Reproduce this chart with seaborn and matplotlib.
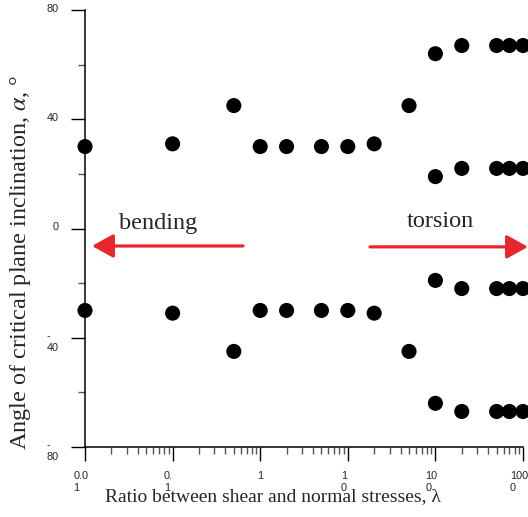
import numpy as np
import pandas as pd
import matplotlib
matplotlib.use("Agg")
import matplotlib.pyplot as plt
import matplotlib.transforms as mtransforms
from matplotlib.ticker import FixedLocator, LogLocator, NullFormatter
import seaborn as sns

# ---- data ----
lam = [0.01, 0.1, 0.5, 1, 2, 5, 10, 20, 50, 100, 200, 500, 700, 1000]
upper_outer = [30, 31, 45, 30, 30, 30, 30, 31, 45, 64, 67, 67, 67, 67]
lower_outer = [-30, -31, -45, -30, -30, -30, -30, -31, -45, -64, -67, -67, -67, -67]
lam_split = [100, 200, 500, 700, 1000]
upper_inner = [19, 22, 22, 22, 22]
lower_inner = [-19, -22, -22, -22, -22]

x_ticks = [0.01, 0.1, 1, 10, 100, 1000]
x_ticklabels = ["0.0\n1", "0.\n1", "1", "1\n0", "10\n0", "100\n0"]
y_ticks = [-80, -40, 0, 40, 80]
y_ticklabels = ["-\n80", "-\n40", "0", "40", "80"]
y_minor = [-60, -20, 20, 60]

df = pd.concat([
    pd.DataFrame({"lam": lam, "angle": upper_outer}),
    pd.DataFrame({"lam": lam, "angle": lower_outer}),
    pd.DataFrame({"lam": lam_split, "angle": upper_inner}),
    pd.DataFrame({"lam": lam_split, "angle": lower_inner}),
], ignore_index=True)

sns.set_style("ticks")
plt.rcParams["font.family"] = ["Liberation Serif", "DejaVu Serif"]
plt.rcParams["mathtext.fontset"] = "stix"

fig = plt.figure(figsize=(5.28, 5.17), dpi=100)
ax = fig.add_axes([85 / 528, 1 - 447 / 517, 438 / 528, 437 / 517])

sns.scatterplot(data=df, x="lam", y="angle", color="black", s=118,
                edgecolor="none", linewidth=0, legend=False, ax=ax, clip_on=False, zorder=5)

ax.set_xscale("log")
ax.set_xlim(0.01, 1000)
ax.set_ylim(-80, 80)

for s in ["top", "right"]:
    ax.spines[s].set_visible(False)
for s in ["left", "bottom"]:
    ax.spines[s].set_linewidth(1.1)
    ax.spines[s].set_color("black")

ax.xaxis.set_major_locator(FixedLocator(x_ticks))
ax.xaxis.set_minor_locator(LogLocator(base=10, subs=np.arange(2, 10)))
ax.xaxis.set_minor_formatter(NullFormatter())
ax.set_xticklabels(x_ticklabels)
ax.set_yticks(y_ticks)
ax.set_yticks(y_minor, minor=True)
ax.set_yticklabels(y_ticklabels)

ax.tick_params(axis="both", which="major", length=10, width=1, direction="out",
               color="black", labelsize=7.8, bottom=True, left=True)
ax.tick_params(axis="both", which="minor", length=5, width=1, direction="out",
               color="#555555", bottom=True, left=True)
ax.tick_params(axis="x", which="major", pad=7.5)
ax.tick_params(axis="y", which="major", pad=9)

for lab in ax.get_xticklabels():
    lab.set_fontfamily(["Liberation Sans", "DejaVu Sans"])
    lab.set_multialignment("left")
    if "\n" in lab.get_text():
        lab.set_transform(lab.get_transform() + mtransforms.ScaledTranslation(-4 / 100, 0, fig.dpi_scale_trans))
for lab in ax.get_yticklabels():
    lab.set_fontfamily(["Liberation Sans", "DejaVu Sans"])
    lab.set_multialignment("left")
    lab.set_verticalalignment("top")
    lab.set_transform(lab.get_transform() + mtransforms.ScaledTranslation(0, 6.5 / 100, fig.dpi_scale_trans))

ax.set_xlabel("Ratio between shear and normal stresses, λ", fontsize=14, va="center")
ax.xaxis.set_label_coords(0.428, -0.114)
ax.set_ylabel(r"Angle of critical plane inclination, $\alpha$, °", fontsize=17.5, va="center")
ax.yaxis.set_label_coords(-0.148, 0.423)

red = "#e8262b"
arrow_kw = dict(arrowstyle="-|>,head_length=0.65,head_width=0.36", color=red, lw=2.3,
                mutation_scale=20, shrinkA=0, shrinkB=0)
ax.annotate("", xy=(0.016, 0.46), xytext=(0.3607, 0.46), xycoords="axes fraction",
            textcoords="axes fraction", arrowprops=arrow_kw, annotation_clip=False)
ax.annotate("", xy=(1.0114, 0.458), xytext=(0.6507, 0.458), xycoords="axes fraction",
            textcoords="axes fraction", arrowprops=arrow_kw, annotation_clip=False)
ax.text(0.1667, 0.498, "bending", transform=ax.transAxes, ha="center", va="baseline", fontsize=17.5)
ax.text(0.8105, 0.503, "torsion", transform=ax.transAxes, ha="center", va="baseline", fontsize=17.5)

fig.savefig("out.png", dpi=100)
